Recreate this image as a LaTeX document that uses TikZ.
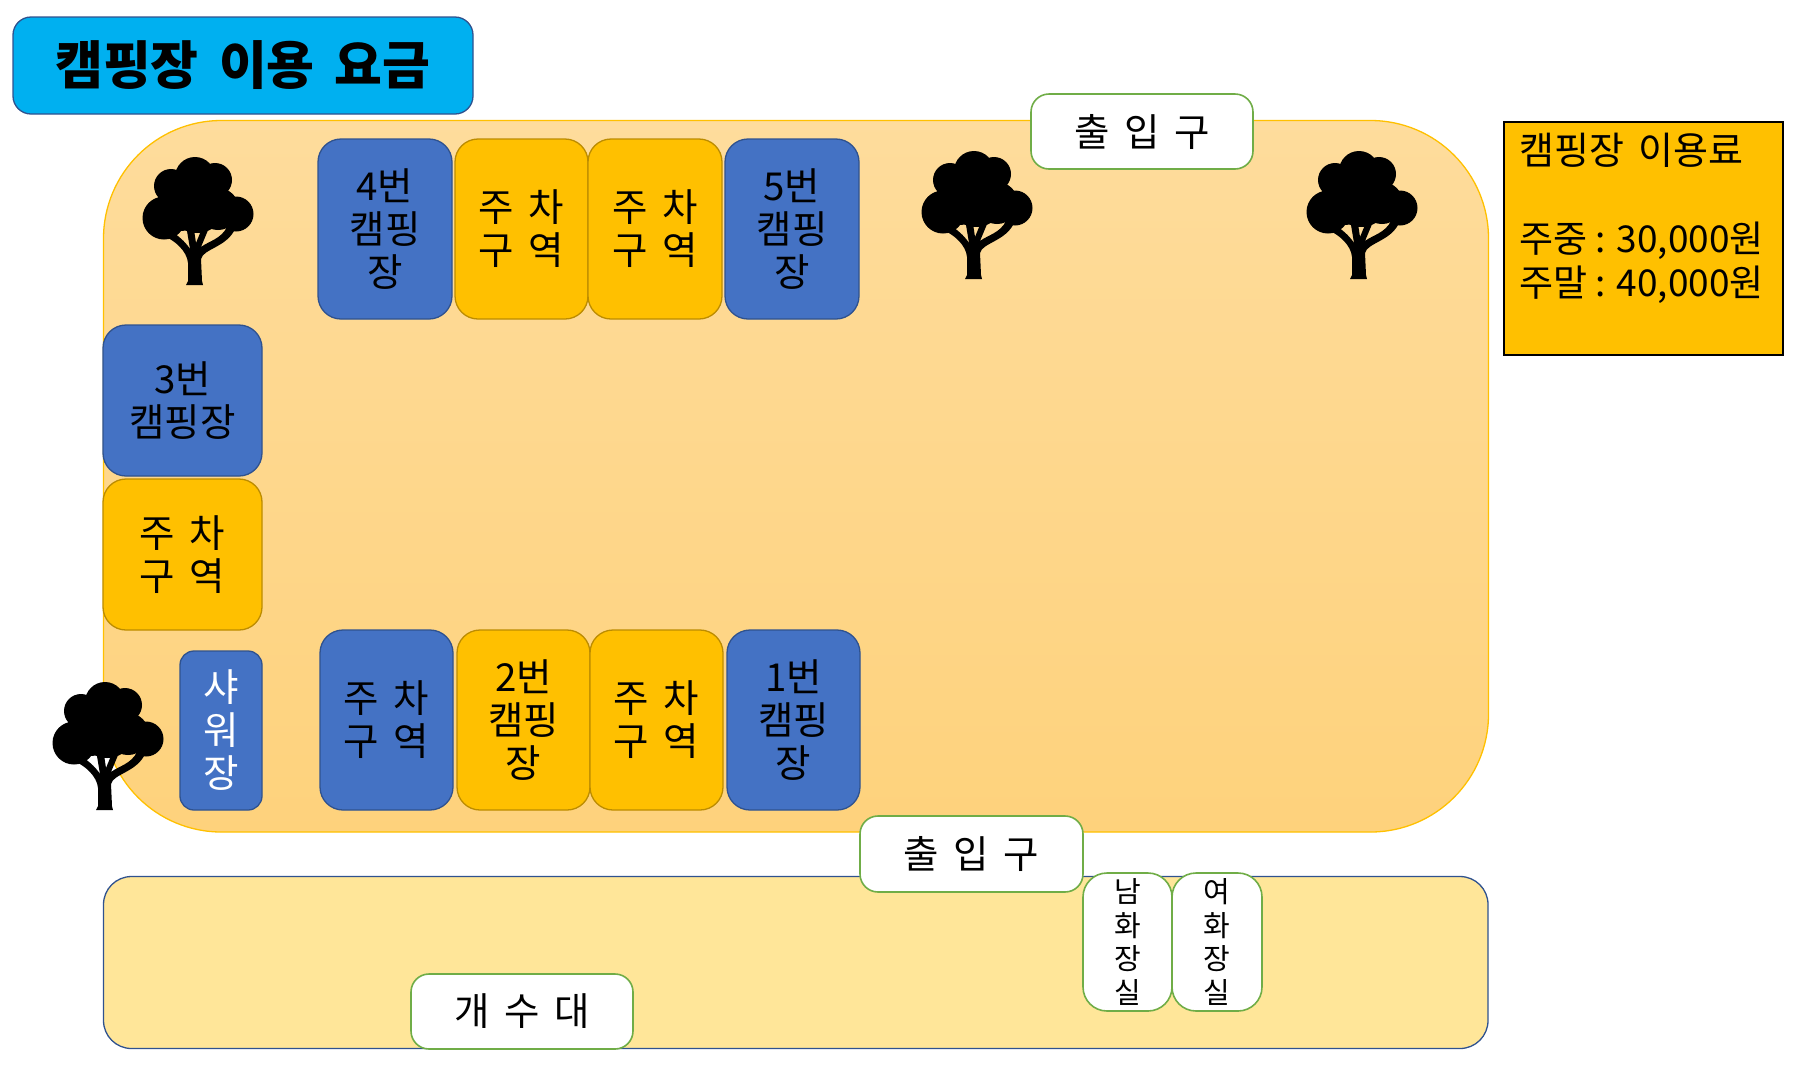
\documentclass[tikz,border=0pt]{standalone}
\usepackage{fontspec}
\setmainfont[WordSpace=1.7]{Noto Sans CJK KR}
\newfontfamily\plainsp{Noto Sans CJK KR}
\newcommand{\bx}[7]{\node[#2,minimum width={(#5-#3)*1pt},minimum height={(#6-#4)*1pt}] (#1) at ({(#3+#5)/2},{(#4+#6)/2}) {#7};}
\tikzset{
  base/.style={draw,shape=rectangle,inner sep=0pt,outer sep=0pt,align=center,text=black,line width=1.3pt,rounded corners=23pt,font=\fontsize{38.5}{43}\selectfont},
  bluebox/.style={base,fill=campblue,draw=campblueedge},
  goldbox/.style={base,fill=campgold,draw=campgoldedge},
  whitebox/.style={base,fill=white,draw=campgreen,line width=1.6pt,rounded corners=18pt},
  washbox/.style={whitebox,font=\fontsize{29}{33.5}\selectfont,rounded corners=24pt},
  treeshape/.pic={
    \fill[black] (21,61) circle (21.5) (52,20) circle (20) (28,29) circle (17) (72,23) circle (17)
      (93,57) circle (17.5) (54,47) circle (29) (75,52) circle (21) (38,50) circle (24);
    \fill[black] (43,128) -- (60,128) -- (59,124) -- (58,102) .. controls (60,92) and (84,90) .. (92,72) -- (84,70) .. controls (78,82) and (66,84) .. (58,90) -- (68,66) -- (62,64) -- (53,86) -- (50,66) -- (43,68) -- (47,92) .. controls (42,84) and (34,78) .. (28,74) -- (23,80) .. controls (32,84) and (44,94) .. (45,106) -- (45,124) -- cycle;
  }
}
\definecolor{campblue}{HTML}{4472C4}
\definecolor{campblueedge}{HTML}{2F528F}
\definecolor{campgold}{HTML}{FFC000}
\definecolor{campgoldedge}{HTML}{BC8C00}
\definecolor{campgreen}{HTML}{70AD47}
\definecolor{campsky}{HTML}{00B0F0}
\definecolor{camptop}{HTML}{FEDC9C}
\definecolor{campbot}{HTML}{FED27C}
\definecolor{camplow}{HTML}{FFE699}
\begin{document}
\begin{tikzpicture}[x=1pt,y=-1pt]
\useasboundingbox (0,0) rectangle (1803,1080);
% areas
\bx{field}{base,top color=camptop,bottom color=campbot,draw=campgold,rounded corners=118pt}{103.5}{120.5}{1488.5}{832}{}
\bx{lower}{base,fill=camplow,draw=campblueedge,rounded corners=28pt}{103.5}{876.5}{1488}{1048.5}{}
% title
\bx{title}{base,fill=campsky,draw=campblueedge,rounded corners=18pt,font=\fontsize{52}{60}\selectfont\bfseries}{13}{17}{473}{114}{캠핑장 이용 요금}
% info
\node[draw=black,fill=campgold,line width=1.6pt,shape=rectangle,inner sep=0pt,outer sep=0pt,minimum width=279pt,minimum height=233pt] (info) at (1643.5,238.5) {};
\node[anchor=north west,inner sep=0pt,align=left,font=\fontsize{38}{44}\selectfont] (infotext) at (1519,133) {캠핑장 이용료\\[44pt]{\plainsp\fontsize{37}{44}\selectfont 주중 : 30,000원}\\{\plainsp\fontsize{37}{44}\selectfont 주말 : 40,000원}};
% top row
\bx{c4}{bluebox}{318}{139}{452}{319}{4번\\캠핑\\장}
\bx{p1}{goldbox}{455}{139}{588}{319}{주 차\\구 역}
\bx{p2}{goldbox}{588}{139}{722}{319}{주 차\\구 역}
\bx{c5}{bluebox}{725}{139}{859}{319}{5번\\캠핑\\장}
% left column
\bx{c3}{bluebox}{103}{325}{262}{476}{3번\\캠핑장}
\bx{p3}{goldbox}{103}{479}{262}{630}{주 차\\구 역}
\bx{shower}{bluebox,text=white,rounded corners=14pt}{180}{651}{262}{810}{샤\\워\\장}
% bottom row
\bx{p4}{bluebox}{320}{630}{453}{810}{주 차\\구 역}
\bx{c2}{goldbox}{457}{630}{590}{810}{2번\\캠핑\\장}
\bx{p5}{goldbox}{590}{630}{723}{810}{주 차\\구 역}
\bx{c1}{bluebox}{727}{630}{860}{810}{1번\\캠핑\\장}
% white boxes
\bx{gate1}{whitebox}{1031}{94}{1253}{169}{출 입 구}
\bx{gate2}{whitebox}{860}{816}{1083}{892}{출 입 구}
\bx{sink}{whitebox}{411}{974}{633}{1049}{개 수 대}
\bx{men}{washbox}{1083}{873}{1172}{1011}{남\\화\\장\\실}
\bx{women}{washbox}{1172}{873}{1262}{1011}{여\\화\\장\\실}
% trees
\pic at (143,157) {treeshape};
\pic at (922,151) {treeshape};
\pic at (1307,151) {treeshape};
\pic at (53,682) {treeshape};
\end{tikzpicture}
\end{document}
